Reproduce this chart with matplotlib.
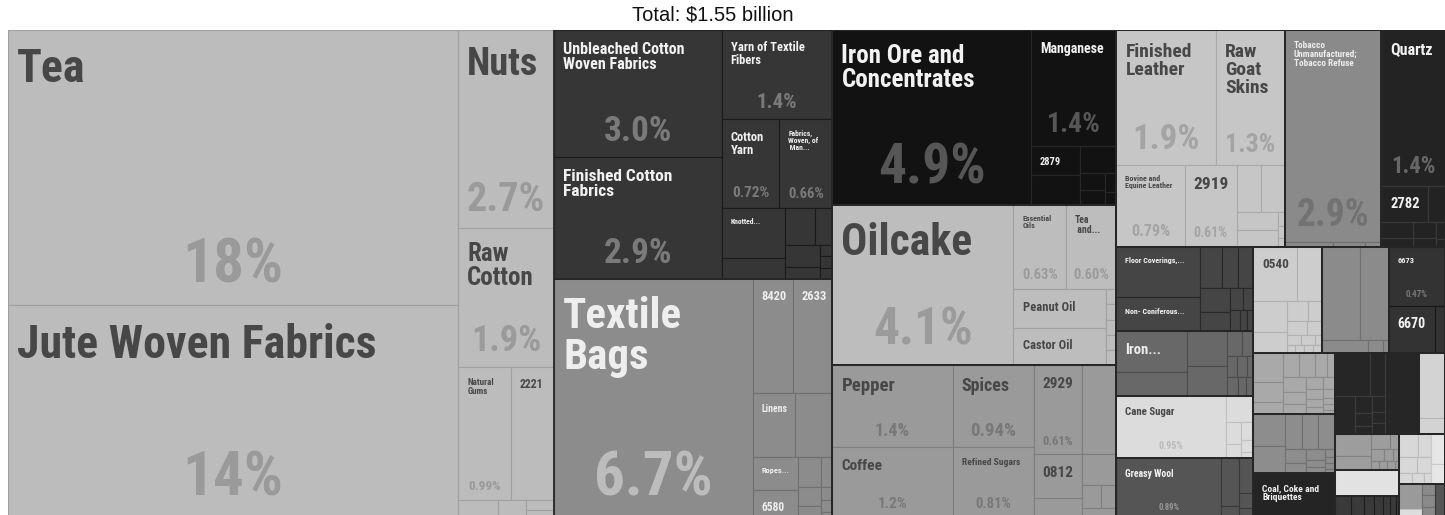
import matplotlib
matplotlib.use("Agg")
import matplotlib.pyplot as plt
from matplotlib import font_manager as fm
from matplotlib.patches import Rectangle

# ---- data: share of exports (%) for every cell ----
# column 1: tea / jute / nuts ...
names_c1 = ['Tea', 'Jute Woven Fabrics', 'Nuts', 'Raw\nCotton', 'Natural\nGums', '2221', '', '', '', '']
values_c1 = [17.52, 13.52, 2.68, 1.88, 0.99, 0.81, 0.1, 0.07, 0.04, 0.03]
shades_c1 = ['#bcbcbc'] * 10

# column 2: cotton textiles and textile bags
names_c2 = ['Unbleached Cotton\nWoven Fabrics', 'Finished Cotton\nFabrics', 'Yarn of Textile\nFibers',
            'Cotton\nYarn', 'Fabrics,\nWoven, of\n Man...', 'Knotted...'] + [''] * 8 + \
           ['Textile\nBags', '8420', '2633', 'Linens', '', 'Ropes...', '6580'] + [''] * 7
values_c2 = [3.0, 2.9, 1.4, 0.72, 0.66, 0.45, 0.19, 0.16, 0.09, 0.11, 0.06, 0.02, 0.02, 0.02,
             6.7, 0.64, 0.64, 0.38, 0.34, 0.21, 0.18, 0.1, 0.05, 0.06, 0.04, 0.02, 0.02, 0.01]
shades_c2 = ['#363636'] * 14 + ['#8c8c8c'] * 14

# column 3: ores, oils, spices
names_c3 = ['Iron Ore and\nConcentrates', 'Manganese', '2879'] + [''] * 6 + \
           ['Oilcake', 'Essential\nOils', 'Tea\n and...', 'Peanut Oil', 'Castor Oil'] + [''] * 5 + \
           ['Pepper', 'Coffee', 'Spices', 'Refined Sugars', '2929', '', '0812'] + [''] * 5
values_c3 = [4.9, 1.4, 0.2, 0.21, 0.14, 0.06, 0.05, 0.03, 0.02,
             4.1, 0.63, 0.6, 0.5, 0.49, 0.022, 0.022, 0.022, 0.022, 0.022,
             1.4, 1.2, 0.94, 0.81, 0.61, 0.43, 0.3, 0.14, 0.15, 0.06, 0.05, 0.05]
shades_c3 = ['#121212'] * 9 + ['#bdbdbd'] * 10 + ['#9a9a9a'] * 12

# column 4: leather, tobacco, minerals and the long tail
names_c4 = ['Finished\nLeather', 'Raw\nGoat\nSkins', 'Bovine and\nEquine Leather', '2919'] + [''] * 7 + \
           ['Tobacco\nUnmanufactured;\nTobacco Refuse'] + [''] * 3 + \
           ['Quartz', '2782'] + [''] * 7 + \
           ['Floor Coverings,...', 'Non- Coniferous...'] + [''] * 10 + \
           ['Iron...'] + [''] * 11 + \
           ['Cane Sugar'] + [''] * 6 + \
           ['Greasy Wool'] + [''] * 5 + \
           ['0540'] + [''] * 14 + \
           [''] * 5 + \
           ['6673', '6670', ''] + \
           [''] * 19 + [''] * 14 + ['Coal, Coke and\nBriquettes'] + \
           [''] * 10 + [''] * 2 + [''] * 11 + [''] + [''] * 7 + [''] * 9 + [''] * 6
values_c4 = [1.9, 1.3, 0.79, 0.61, 0.16, 0.16, 0.1, 0.1, 0.012, 0.01, 0.008,
             2.9, 0.03, 0.02, 0.01,
             1.4, 0.24, 0.09, 0.07, 0.04, 0.05, 0.03, 0.02, 0.01,
             0.6, 0.4, 0.13, 0.09, 0.09, 0.1, 0.08, 0.04, 0.03, 0.03, 0.02, 0.02,
             0.41, 0.24, 0.2, 0.17, 0.05, 0.04, 0.03, 0.03, 0.02, 0.03, 0.02, 0.02,
             0.95, 0.1, 0.05, 0.03, 0.03, 0.02, 0.01,
             0.89, 0.12, 0.03, 0.07, 0.03, 0.02,
             0.33, 0.19, 0.15, 0.1, 0.06, 0.04, 0.04, 0.03, 0.02, 0.02, 0.01, 0.01, 0.01, 0.01, 0.01,
             0.51, 0.37, 0.09, 0.03, 0.01,
             0.47, 0.31, 0.07,
             0.12, 0.086, 0.05, 0.053, 0.05, 0.04, 0.026, 0.05, 0.04, 0.03, 0.03, 0.025, 0.02, 0.015,
             0.02, 0.015, 0.01, 0.01, 0.005,
             0.147, 0.124, 0.08, 0.08, 0.085, 0.04, 0.03, 0.03, 0.02, 0.015, 0.012, 0.01, 0.008, 0.006,
             0.52,
             0.21, 0.09, 0.11, 0.04, 0.03, 0.02, 0.03, 0.02, 0.02, 0.39,
             0.24, 0.06,
             0.11, 0.07, 0.04, 0.02, 0.02, 0.015, 0.01, 0.01, 0.01, 0.01, 0.005,
             0.24,
             0.05, 0.04, 0.03, 0.03, 0.02, 0.02, 0.01,
             0.06, 0.04, 0.04, 0.03, 0.02, 0.02, 0.01, 0.06, 0.04,
             0.08, 0.03, 0.02, 0.02, 0.02, 0.05]
shades_c4 = ['#c6c6c6'] * 11 + ['#8a8a8a'] * 4 + ['#232323'] * 9 + \
            ['#454545'] * 12 + ['#686868'] * 12 + ['#dcdcdc'] * 7 + ['#555555'] * 6 + \
            ['#cdcdcd'] * 15 + ['#8b8b8b'] * 5 + ['#333333'] * 3 + \
            ['#a9a9a9'] * 19 + ['#8d8d8d'] * 14 + ['#242424'] + \
            ['#262626'] * 10 + ['#d3d3d3'] * 2 + ['#9d9d9d'] * 11 + ['#e2e2e2'] + ['#3a3a3a'] * 7 + \
            ['#d8d8d8'] * 7 + ['#e6e6e6'] * 2 + \
            ['#9a9a9a', '#dddddd', '#8a8a8a', '#8a8a8a', '#8a8a8a', '#555555']

TITLE = 'Total: \\$1.55 billion'

# ---- layout: slice-and-dice tree, '.' = next leaf, h/v = split direction,
# upper case = outline every child with the dark sector border ----
L = '.'
struct_c1 = ['h', ['v', L, L], ['v', L, L, ['h', L, L], ['h', L, L, ['v', L, L]]]]
struct_c2 = ['V',
             ['h', ['v', L, L],
              ['v', L, ['h', L, L],
               ['h', ['v', L, L], ['v', ['h', L, L], ['h', ['v', L, L], ['v', L, L, L]]]]]],
             ['h', L,
              ['v', ['h', L, L], ['h', L, L],
               ['h', ['v', L, L], ['v', ['h', L, L], ['h', ['v', L, L], ['v', L, L, L]]]]]]]
struct_c3 = ['V',
             ['h', L, ['v', L, ['h', ['v', L, L], ['v', L, ['h', ['v', L, L], ['v', L, L]]]]]],
             ['h', L, ['v', ['h', L, L], ['h', ['v', L, L], ['v', L, L, L, L, L]]]],
             ['h', ['v', L, L], ['v', L, L],
              ['v', ['h', L, L], ['h', ['v', L, L], ['v', L, ['h', L, L], L]]]]]
leather = ['v', ['h', L, L], ['h', L, L, ['v', ['h', L, L], ['h', ['v', L, L], ['v', L, L, L]]]]]
tobacco = ['v', L, ['h', L, L, L]]
quartz = ['v', L, ['h', L, L], ['h', ['v', L, L], ['v', L, L], ['v', L, L]]]
floor = ['h', ['v', L, L], ['v', ['h', L, L, L], ['h', ['v', L, L], ['v', ['h', L, L], ['h', L, L, L]]]]]
ironb = ['h', ['v', L, L], ['v', L, L], ['v', ['h', L, L], ['h', L, L, L], ['h', L, L, L]]]
cane = ['h', L, ['v', L, ['h', ['v', L, L], ['v', L, L, L]]]]
greasy = ['h', L, ['v', L, L], ['v', L, L, L]]
b0540 = ['v', ['h', L, L], ['h', ['v', L, L], ['v', ['h', L, L], ['h', L, L], ['h', L, L, L], ['h', L, L, L, L]]]]
bgray = ['v', ['h', L, L], ['h', L, L, L]]
bdark = ['v', L, ['h', L, L]]
a1 = ['h', ['v', L, L, L], ['v', ['h', L, L, L, L],
                            ['h', ['v', L, L, L], ['v', L, L, L, L], ['v', L, L, L, L, L]]]]
a2 = ['h', ['v', L, L], ['v', ['h', L, L, L], ['h', ['v', L, L], ['v', L, L, L], ['v', L, L, L, L]]]]
b1 = ['h', ['v', ['h', L, L], ['h', L, ['v', L, L, L], ['v', L, L, L]]], L]
b2 = ['v', L, L]
b3 = ['h', ['v', L, L], ['v', ['h', L, L], ['h', L, L, L], ['h', L, L, L, L]]]
b4 = ['h', L, L, L, L, L, L, L]
b5 = ['h', ['v', ['h', L, L], ['h', L, L], ['h', L, L, L]], ['v', L, L]]
b6 = ['h', ['v', L, L], ['v', L, L, L], L]
struct_c4 = ['V', ['H', leather, tobacco, quartz],
             ['H', ['V', floor, ironb, cane, greasy],
              ['V', ['H', b0540, bgray, bdark],
               ['H', ['V', a1, a2, L], ['V', ['H', b1, b2], ['H', ['V', b3, L, b4], ['V', b5, b6]]]]]]]

# font sizes (pt) of the labels and of the percentages
name_pt = {
    'Tea': 33, 'Jute Woven Fabrics': 33, 'Nuts': 27.5, 'Raw\nCotton': 18, 'Natural\nGums': 6.5, '2221': 8.5,
    'Unbleached Cotton\nWoven Fabrics': 11.5, 'Finished Cotton\nFabrics': 12.5, 'Yarn of Textile\nFibers': 9,
    'Cotton\nYarn': 9, 'Fabrics,\nWoven, of\n Man...': 5.5, 'Knotted...': 5.5,
    'Textile\nBags': 31, '8420': 9, '2633': 9, 'Linens': 7, 'Ropes...': 6, '6580': 8.3,
    'Iron Ore and\nConcentrates': 18, 'Manganese': 10, '2879': 7.5, 'Oilcake': 31.5,
    'Essential\nOils': 5.8, 'Tea\n and...': 7, 'Peanut Oil': 9, 'Castor Oil': 9,
    'Pepper': 13.5, 'Coffee': 11, 'Spices': 13, 'Refined Sugars': 6.8, '2929': 11, '0812': 11,
    'Finished\nLeather': 14, 'Raw\nGoat\nSkins': 14, 'Bovine and\nEquine Leather': 5.8, '2919': 12.5,
    'Tobacco\nUnmanufactured;\nTobacco Refuse': 6.7, 'Quartz': 11.5, '2782': 10.5,
    'Floor Coverings,...': 5.8, 'Non- Coniferous...': 5.8, 'Iron...': 10.5, 'Cane Sugar': 7.8,
    'Greasy Wool': 7, '0540': 9.5, '6673': 6, '6670': 10, 'Coal, Coke and\nBriquettes': 6.8,
}
pct_pt = {
    'Tea': 44, 'Jute Woven Fabrics': 44, 'Nuts': 29, 'Raw\nCotton': 26, 'Natural\nGums': 9.5,
    'Unbleached Cotton\nWoven Fabrics': 25.5, 'Finished Cotton\nFabrics': 25.5, 'Yarn of Textile\nFibers': 15,
    'Cotton\nYarn': 11, 'Fabrics,\nWoven, of\n Man...': 10.5, 'Textile\nBags': 44,
    'Iron Ore and\nConcentrates': 40, 'Manganese': 20, 'Oilcake': 37, 'Essential\nOils': 10.5,
    'Tea\n and...': 10.5, 'Pepper': 13, 'Spices': 13.5, '2929': 9, 'Coffee': 11, 'Refined Sugars': 10.5,
    'Finished\nLeather': 25, 'Raw\nGoat\nSkins': 18.5, 'Tobacco\nUnmanufactured;\nTobacco Refuse': 27,
    'Quartz': 16.5, 'Bovine and\nEquine Leather': 11.5, '2919': 10, '6673': 6.5, 'Cane Sugar': 7.2,
    'Greasy Wool': 6.2,
}
# cells whose percentage is printed darker than the fill
dark_pct = {'Tobacco\nUnmanufactured;\nTobacco Refuse'}


def pick_font(cands):
    for fam in cands:
        try:
            fm.findfont(fm.FontProperties(family=fam, weight='bold'), fallback_to_default=False)
            return fam
        except ValueError:
            pass
    return 'DejaVu Sans'


FONT = pick_font(['Liberation Sans Narrow', 'Roboto Condensed', 'Open Sans Condensed', 'Arial Narrow'])
TITLE_FONT = pick_font(['Liberation Sans', 'Arial', 'DejaVu Sans'])


def count(node):
    return 1 if node == L else sum(count(k) for k in node[1:])


def place(node, x, y, w, h, start, vals, rects, boxes):
    if node == L:
        rects.append((start, x, y, w, h))
        return
    pos = 0.0
    i = start
    tot = sum(vals[start:start + count(node)])
    for k in node[1:]:
        n = count(k)
        f = sum(vals[i:i + n]) / tot
        if node[0] in 'hH':
            cx, cy, cw, ch = x + pos * w, y, f * w, h
        else:
            cx, cy, cw, ch = x, y + pos * h, w, f * h
        place(k, cx, cy, cw, ch, i, vals, rects, boxes)
        if node[0].isupper():
            boxes.append((cx, cy, cw, ch))
        pos += f
        i += n


def shift(c, d):
    v = max(0, min(255, int(c[1:3], 16) + d))
    return '#%02x%02x%02x' % (v, v, v)


def pct_text(v):
    # two significant digits, as printed in the reference (18%, 3.0%, 0.60%)
    return f"{v:#.2g}".rstrip('.') + '%'


names = names_c1 + names_c2 + names_c3 + names_c4
values = values_c1 + values_c2 + values_c3 + values_c4
shades = shades_c1 + shades_c2 + shades_c3 + shades_c4
root = ['h', struct_c1, struct_c2, struct_c3, struct_c4]
assert count(root) == len(values) == len(names) == len(shades)

fig = plt.figure(figsize=(14.45, 5.15), dpi=100)
# the map runs a few pixels past the bottom edge, as in the reference
ax = fig.add_axes([8 / 1445, -3 / 515, 1437 / 1445, 488 / 515])
ax.set_xlim(0, 1)
ax.set_ylim(1, 0)
ax.axis('off')

rects, boxes = [], []
place(root, 0, 0, 1, 1, 0, values, rects, boxes)

for idx, x, y, w, h in rects:
    fill = shades[idx]
    g = int(fill[1:3], 16)
    edge = shift(fill, -0x1c) if g > 0x30 else shift(fill, 0x16)
    ax.add_patch(Rectangle((x, y), w, h, facecolor=fill, edgecolor=edge, lw=0.8))
for x, y, w, h in boxes:
    ax.add_patch(Rectangle((x, y), w, h, fill=False, edgecolor='#262626', lw=1.3))

PAD = 6.5  # points
for idx, x, y, w, h in rects:
    name = names[idx]
    if not name:
        continue
    fill = shades[idx]
    g = int(fill[1:3], 16)
    if g >= 0x99:
        lab_c, pct_c = '#474747', shift(fill, -0x22)
    elif g >= 0x66:
        lab_c, pct_c = '#eeeeee', shift(fill, 0x30)
    else:
        lab_c, pct_c = '#f2f2f2', shift(fill, 0x44)
    if name in dark_pct:
        pct_c = shift(fill, -0x18)
    size = name_pt[name]
    ax.annotate(name, xy=(x, y), xytext=(PAD, -(PAD + 0.18 * size)), textcoords='offset points',
                ha='left', va='top', fontsize=size, color=lab_c,
                fontweight='bold', family=FONT, linespacing=1.0)
    if name in pct_pt:
        pt = pct_pt[name]
        off = (0.55 * pt * 100 / 72 + 6) * 0.72
        ax.annotate(pct_text(values[idx]), xy=(x + w / 2, y + h), xytext=(0, off),
                    textcoords='offset points', ha='center', va='center', fontsize=pt,
                    color=pct_c, fontweight='bold', family=FONT)

fig.text(713 / 1445, 1 - 15 / 515, TITLE, ha='center', va='center', fontsize=14.5,
         family=TITLE_FONT, color='#111111')

fig.savefig('out.png', dpi=100, facecolor='white')
